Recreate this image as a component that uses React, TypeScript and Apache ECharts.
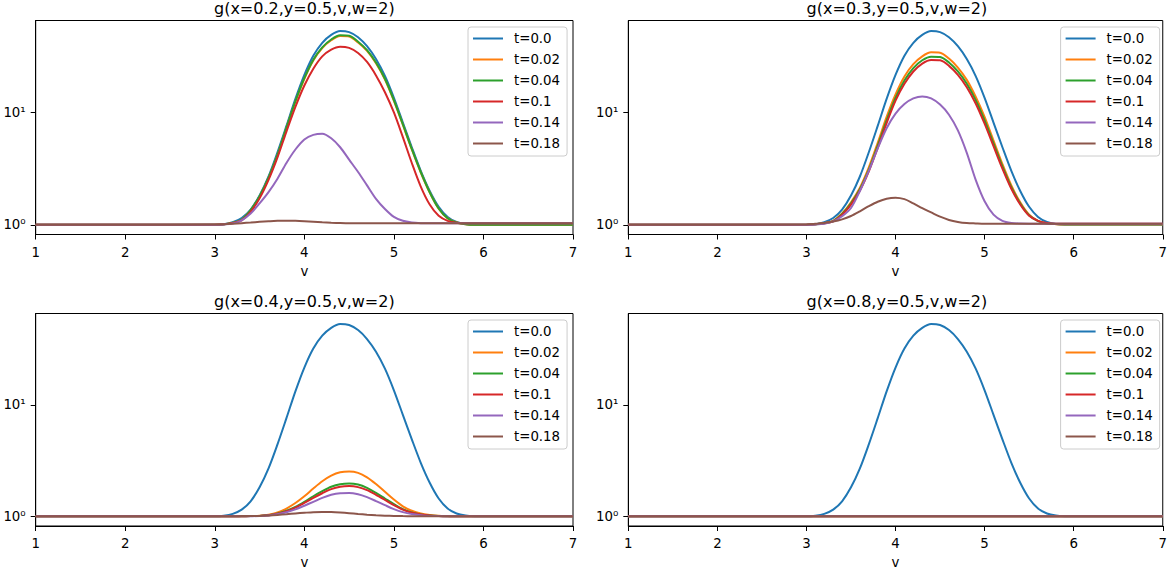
import React, { useEffect, useRef } from "react";
import * as echarts from "echarts";

// sample positions along v
const vGrid = [1, 2, 3, 3.1, 3.2, 3.3, 3.4, 3.5, 3.6, 3.7, 3.8, 3.9, 4, 4.1, 4.2, 4.3, 4.4, 4.5, 4.6, 4.7, 4.8, 4.9, 5, 5.1, 5.2, 5.3, 5.4, 5.5, 5.6, 5.7, 5.8, 5.9, 6, 7];
const vEnds = [1, 7];

const seriesNames = ["t=0.0", "t=0.02", "t=0.04", "t=0.1", "t=0.14", "t=0.18"];
const colors = ["#1f77b4", "#ff7f0e", "#2ca02c", "#d62728", "#9467bd", "#8c564b"];
const titles = ["g(x=0.2,y=0.5,v,w=2)", "g(x=0.3,y=0.5,v,w=2)", "g(x=0.4,y=0.5,v,w=2)", "g(x=0.8,y=0.5,v,w=2)"];

// t = 0.0 (same in every panel)
const g0 = [1, 1, 1, 1.012, 1.052, 1.148, 1.365, 1.82, 2.69, 4.42, 7.59, 13.2, 21.6, 32.0, 41.7, 49.0, 53.1, 51.9, 46.8, 38.9, 29.9, 21.1, 13.5, 8.13, 4.9, 3.02, 2.0, 1.445, 1.175, 1.059, 1.016, 1.002, 1.0, 1.0];

// x = 0.2
const o1 = [1, 1, 1, 1.009, 1.04, 1.107, 1.343, 1.778, 2.6, 4.17, 7.24, 12.45, 19.95, 29.04, 37.41, 43.95, 47.9, 47.4, 41.98, 35.32, 27.42, 19.63, 12.68, 7.76, 4.68, 2.92, 1.936, 1.39, 1.14, 1.047, 1.012, 1.0, 1.0, 1.0];
const gr1 = [1, 1, 1, 1.009, 1.042, 1.109, 1.349, 1.799, 2.63, 4.22, 7.33, 12.59, 20.18, 29.51, 38.02, 44.67, 48.7, 48.2, 42.66, 35.89, 27.86, 19.95, 12.88, 7.85, 4.73, 2.95, 1.95, 1.396, 1.143, 1.047, 1.012, 1.0, 1.0, 1.0];
const r1 = [1, 1, 1, 1.009, 1.038, 1.096, 1.303, 1.718, 2.51, 3.98, 6.76, 11.22, 17.38, 24.55, 31.62, 36.31, 38.55, 37.58, 33.88, 28.18, 21.38, 15.14, 10.0, 6.03, 3.55, 2.19, 1.514, 1.202, 1.084, 1.042, 1.033, 1.03, 1.03, 1.03];
const p1 = [1, 1, 1, 1.007, 1.028, 1.096, 1.259, 1.549, 1.95, 2.57, 3.55, 4.68, 5.75, 6.31, 6.46, 5.89, 4.9, 3.8, 2.95, 2.24, 1.7, 1.38, 1.175, 1.084, 1.047, 1.033, 1.03, 1.03, 1.03, 1.03, 1.03, 1.03, 1.03, 1.03];
const b1 = [1, 1, 1.005, 1.009, 1.019, 1.033, 1.047, 1.062, 1.074, 1.084, 1.086, 1.084, 1.076, 1.064, 1.052, 1.042, 1.035, 1.033, 1.03, 1.03, 1.03, 1.03, 1.03, 1.03, 1.03, 1.03, 1.03, 1.03, 1.03, 1.03, 1.03, 1.03, 1.03, 1.03];

// x = 0.3
const o2 = [1, 1, 1, 1.009, 1.035, 1.084, 1.259, 1.585, 2.14, 3.24, 5.37, 9.12, 14.45, 20.89, 26.92, 31.62, 34.3, 34.1, 30.2, 25.12, 19.5, 13.8, 9.12, 5.62, 3.47, 2.24, 1.585, 1.23, 1.084, 1.028, 1.012, 1.007, 1.007, 1.007];
const gr2 = [1, 1, 1, 1.009, 1.033, 1.079, 1.245, 1.549, 2.07, 3.09, 5.07, 8.51, 13.49, 19.28, 24.83, 29.17, 31.4, 31.2, 27.86, 23.17, 17.99, 12.88, 8.51, 5.31, 3.31, 2.16, 1.549, 1.216, 1.079, 1.028, 1.014, 1.012, 1.012, 1.012];
const r2 = [1, 1, 1, 1.009, 1.03, 1.074, 1.23, 1.514, 2.02, 2.99, 4.84, 8.04, 12.74, 17.99, 23.17, 27.23, 29.3, 29.1, 26.0, 21.63, 16.79, 12.02, 7.94, 5.01, 3.16, 2.09, 1.514, 1.202, 1.084, 1.035, 1.023, 1.023, 1.023, 1.023];
const p2 = [1, 1, 1, 1.007, 1.023, 1.072, 1.19, 1.41, 2.0, 3.02, 4.79, 7.24, 9.77, 11.89, 13.34, 13.9, 13.34, 11.75, 9.55, 6.92, 4.37, 2.51, 1.62, 1.23, 1.084, 1.038, 1.026, 1.023, 1.023, 1.023, 1.023, 1.023, 1.023, 1.023];
const b2 = [1, 1, 1.007, 1.019, 1.035, 1.067, 1.117, 1.197, 1.318, 1.462, 1.603, 1.706, 1.742, 1.69, 1.549, 1.406, 1.288, 1.18, 1.104, 1.059, 1.035, 1.028, 1.023, 1.023, 1.023, 1.023, 1.023, 1.023, 1.023, 1.023, 1.023, 1.023, 1.023, 1.023];

// x = 0.4
const o3 = [1, 1, 1, 1, 1, 1.002, 1.005, 1.014, 1.035, 1.084, 1.175, 1.318, 1.514, 1.778, 2.065, 2.317, 2.483, 2.523, 2.455, 2.239, 1.95, 1.66, 1.413, 1.23, 1.122, 1.059, 1.028, 1.012, 1.005, 1, 1, 1, 1, 1];
const gr3 = [1, 1, 1, 1, 1, 1.002, 1.005, 1.009, 1.023, 1.059, 1.122, 1.216, 1.349, 1.514, 1.679, 1.841, 1.941, 1.972, 1.928, 1.799, 1.622, 1.445, 1.288, 1.161, 1.084, 1.04, 1.019, 1.007, 1.002, 1, 1, 1, 1, 1];
const r3 = [1, 1, 1, 1, 1, 1.002, 1.005, 1.009, 1.021, 1.054, 1.112, 1.197, 1.318, 1.462, 1.611, 1.754, 1.841, 1.866, 1.828, 1.718, 1.56, 1.403, 1.259, 1.148, 1.076, 1.038, 1.016, 1.007, 1.002, 1, 1, 1, 1, 1];
const p3 = [1, 1, 1, 1, 1, 1.001, 1.003, 1.007, 1.019, 1.042, 1.086, 1.153, 1.245, 1.349, 1.462, 1.56, 1.614, 1.622, 1.578, 1.486, 1.371, 1.259, 1.161, 1.091, 1.047, 1.023, 1.009, 1.005, 1.002, 1, 1, 1, 1, 1];
const b3 = [1, 1, 1, 1.002, 1.002, 1.005, 1.007, 1.009, 1.019, 1.03, 1.045, 1.062, 1.076, 1.089, 1.094, 1.091, 1.081, 1.067, 1.05, 1.035, 1.023, 1.014, 1.009, 1.005, 1.002, 1, 1, 1, 1, 1, 1, 1, 1, 1];

// x = 0.8: every t > 0 stays at 1
const flat = [1, 1];

// axis settings
const xTicks = { min: 1, max: 7, step: 1 };
const yLimits = [0.819, 65.9];
const yTickValues = [1, 10];
const yTickLabels = ["10\u2070", "10\u00b9"];

const FONT = '"DejaVu Sans", sans-serif';

function buildOption() {
  const W = 537.3;
  const H = 214;
  const lefts = [35.7, 628.3, 35.7, 628.3];
  const tops = [20.5, 20.5, 313.5, 313.5];

  const panels = [
    [g0, o1, gr1, r1, p1, b1].map((ys) => ({ xs: vGrid, ys })),
    [g0, o2, gr2, r2, p2, b2].map((ys) => ({ xs: vGrid, ys })),
    [g0, o3, gr3, r3, p3, b3].map((ys) => ({ xs: vGrid, ys })),
    [
      { xs: vGrid, ys: g0 },
      { xs: vEnds, ys: flat },
      { xs: vEnds, ys: flat },
      { xs: vEnds, ys: flat },
      { xs: vEnds, ys: flat },
      { xs: vEnds, ys: flat },
    ],
  ];

  const yLogTicks = yTickValues.map((v) => Math.log10(v));

  return {
    animation: false,
    backgroundColor: "#ffffff",
    textStyle: { fontFamily: FONT },
    grid: lefts.map((l, i) => ({
      left: l,
      top: tops[i],
      width: W,
      height: H,
      show: true,
      borderColor: "#000",
      borderWidth: 1,
      backgroundColor: "transparent",
      containLabel: false,
    })),
    xAxis: lefts.map((_, i) => ({
      type: "value",
      gridIndex: i,
      min: xTicks.min,
      max: xTicks.max,
      interval: xTicks.step,
      name: "v",
      nameLocation: "middle",
      nameGap: 30,
      nameTextStyle: { fontSize: 13.33, color: "#000", fontFamily: FONT },
      axisLine: { show: true, onZero: false, lineStyle: { color: "#000", width: 1 } },
      axisTick: { show: true, length: 5, lineStyle: { color: "#000", width: 1 } },
      axisLabel: { fontSize: 13.33, color: "#000", fontFamily: FONT, margin: 11 },
      splitLine: { show: false },
    })),
    yAxis: lefts.map((_, i) => ({
      type: "value",
      gridIndex: i,
      min: Math.log10(yLimits[0]),
      max: Math.log10(yLimits[1]),
      axisLine: { show: true, onZero: false, lineStyle: { color: "#000", width: 1 } },
      axisTick: { show: true, length: 5, customValues: yLogTicks, lineStyle: { color: "#000", width: 1 } },
      axisLabel: {
        customValues: yLogTicks,
        fontSize: 13.33,
        color: "#000",
        fontFamily: FONT,
        margin: 10,
        formatter: (v: number) => {
          const k = yLogTicks.findIndex((t) => Math.abs(t - v) < 1e-6);
          return k >= 0 ? yTickLabels[k] : "";
        },
      },
      splitLine: { show: false },
    })),
    legend: lefts.map((l, i) => ({
      left: l + 432.3,
      top: tops[i] + 6.5,
      orient: "vertical",
      data: seriesNames,
      itemWidth: 30,
      itemHeight: 14,
      itemGap: 8,
      padding: [5, 7, 6, 4],
      backgroundColor: "rgba(255,255,255,0.8)",
      borderColor: "#cccccc",
      borderWidth: 1,
      borderRadius: 3,
      selectedMode: false,
      itemStyle: { opacity: 0, borderWidth: 0 },
      textStyle: { fontSize: 13.33, color: "#000", fontFamily: FONT, padding: [0, 0, 0, 6] },
    })),
    graphic: {
      elements: titles.map((t, i) => ({
        type: "text",
        x: lefts[i] + W / 2,
        y: tops[i] - 12.3,
        silent: true,
        style: {
          text: t,
          fontSize: 16,
          fontFamily: FONT,
          fill: "#000",
          align: "center",
          verticalAlign: "middle",
          textAlign: "center",
          textVerticalAlign: "middle",
        },
      })),
    },
    series: panels.flatMap((curves, pi) =>
      curves.map((c, si) => ({
        type: "line",
        name: seriesNames[si],
        xAxisIndex: pi,
        yAxisIndex: pi,
        data: c.xs.map((x, k) => [x, Math.log10(c.ys[k])]),
        symbol: "none",
        showSymbol: false,
        smooth: 0.3,
        silent: true,
        lineStyle: { color: colors[si], width: 2 },
        itemStyle: { color: colors[si] },
        emphasis: { disabled: true },
      }))
    ),
  };
}

export default function App() {
  const ref = useRef<HTMLDivElement>(null);
  useEffect(() => {
    if (!ref.current) return;
    const chart = echarts.init(ref.current, null, { renderer: "svg" });
    chart.setOption(buildOption() as any);
    return () => chart.dispose();
  }, []);
  return (
    <div
      ref={ref}
      style={{ position: "absolute", left: 0, top: 0, width: 1170, height: 570, background: "#fff" }}
    />
  );
}
